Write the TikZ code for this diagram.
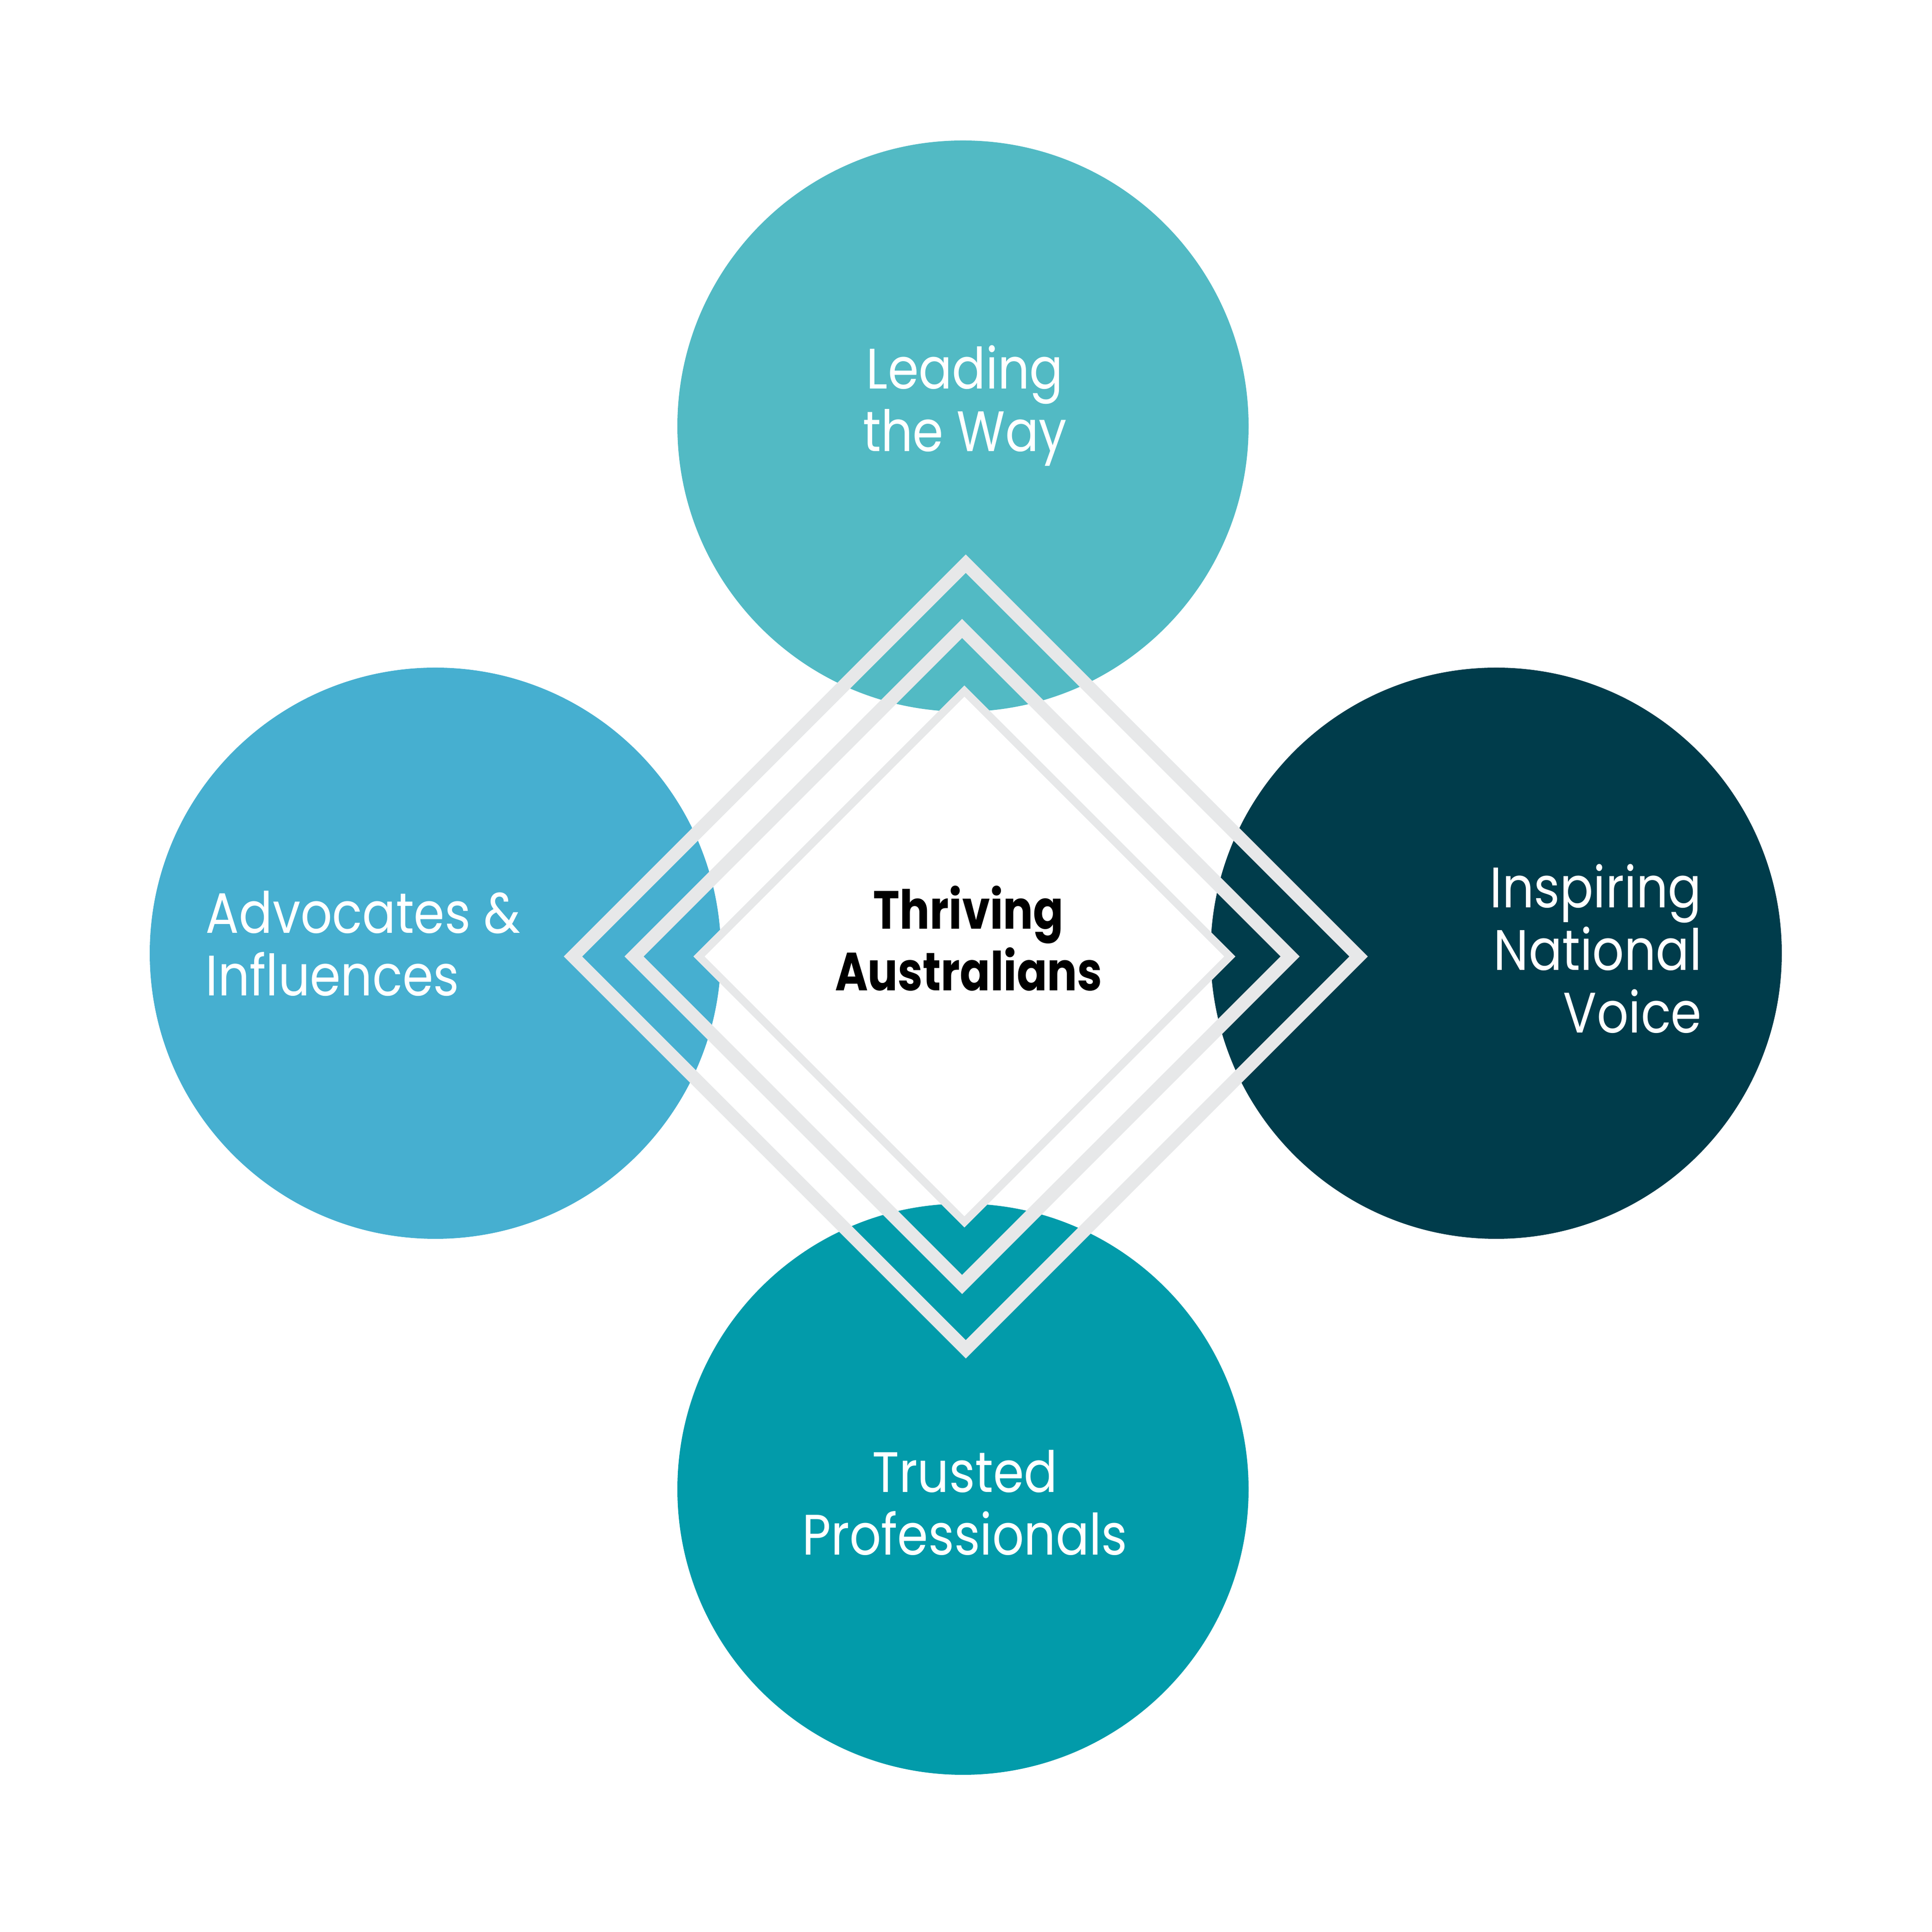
\documentclass[tikz,border=0pt]{standalone}
\usepackage{fontspec}
\setmainfont{Poppins}[FakeStretch=0.87]
\newfontfamily\corefont{Poppins}[FakeStretch=0.83]
\usepackage{xcolor}
\usepackage{tikz}
\usetikzlibrary{shapes.geometric}
\usetikzlibrary{calc}
\usetikzlibrary{positioning}

\definecolor{leadcol}{RGB}{82,186,196}
\definecolor{advcol}{RGB}{70,175,208}
\definecolor{inspcol}{RGB}{0,60,75}
\definecolor{trustcol}{RGB}{2,155,170}
\definecolor{rimgray}{RGB}{231,232,233}

\begin{document}
\begin{tikzpicture}[-,node distance=11.4cm]
  \tikzstyle{pillar}=[circle, draw=none, inner sep=0pt, minimum size=12.32cm]
  \tikzstyle{frame}=[diamond, aspect=1, inner sep=0pt, draw=rimgray]
  \tikzstyle{tag}=[inner sep=0pt, text=white, font=\fontsize{35pt}{38.4pt}\selectfont]
  \useasboundingbox (0,0) rectangle (41.67,41.67);
  \coordinate (hub) at (20.77,21.11);
  % the four circles
  \node[pillar, fill=leadcol]  (lead)  [above of=hub, node distance=11.37cm] {};
  \node[pillar, fill=advcol]   (adv)   [left of=hub, node distance=11.38cm] {};
  \node[pillar, fill=inspcol]  (insp)  [right of=hub, node distance=11.50cm] {};
  \node[pillar, fill=trustcol] (trust) [below of=hub, node distance=11.56cm] {};
  % the diamonds
  \node[frame, line width=0.28cm, minimum size=17.06cm] (outer) at ($(hub)+(0.06,-0.07)$) {};
  \node[frame, line width=0.29cm, minimum size=14.27cm] (middle) at ($(hub)+(-0.02,-0.07)$) {};
  \node[frame, line width=0.17cm, minimum size=11.52cm, fill=white] (core) at ($(hub)+(0.03,-0.07)$) {};
  % texts
  \node[tag, align=center] (leadtext) at ($(lead)+(0.04,0.44)$) {Leading\\the Way};
  \node[tag, align=left, anchor=west] (advtext) at ($(adv)+(-4.96,0.21)$) {Advocates \&\\Influences};
  \node[tag, align=right, anchor=east] (insptext) at ($(insp)+(4.44,0.10)$) {Inspiring\\National\\Voice};
  \node[tag, align=center] (trusttext) at ($(trust)+(0.04,-0.29)$) {Trusted\\Professionals};
  \node[inner sep=0pt, align=center, font=\corefont\bfseries\fontsize{33pt}{37.8pt}\selectfont] (coretext) at ($(core)+(0.09,0.39)$) {Thriving\\Australians};
\end{tikzpicture}
\end{document}
